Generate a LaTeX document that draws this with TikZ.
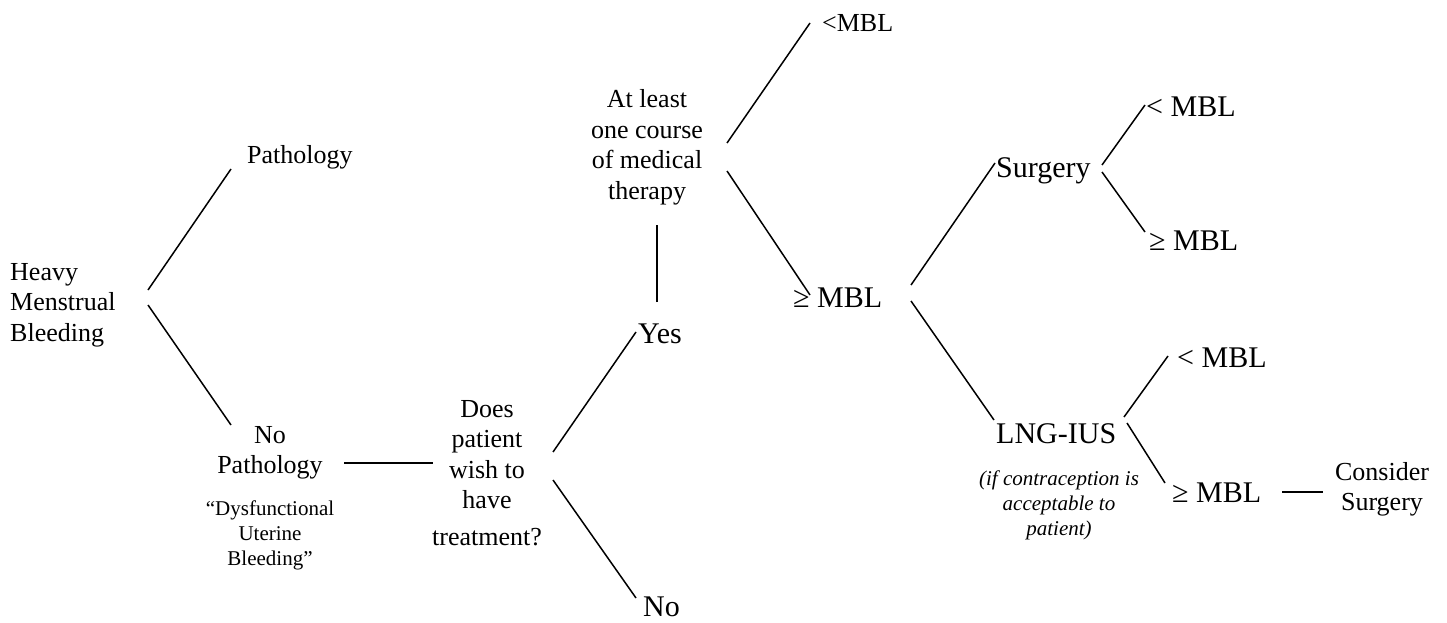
\documentclass[tikz,border=0pt]{standalone}
\usepackage{fontspec}
\setmainfont{Liberation Serif}
\usetikzlibrary{calc}
\newcommand\stackc[1]{\begin{tabular}[t]{@{}c@{}}#1\end{tabular}}
\newcommand\stackl[1]{\begin{tabular}[t]{@{}l@{}}#1\end{tabular}}
\tikzset{
  txt/.style={inner sep=0pt, font=\fontsize{26}{30.5}\selectfont},
  big/.style={inner sep=0pt, font=\fontsize{30}{36}\selectfont},
  small/.style={inner sep=0pt, font=\fontsize{21}{25}\selectfont},
  note/.style={inner sep=0pt, font=\fontsize{21}{25}\selectfont\itshape},
  link/.style={line width=1.5pt}
}
\begin{document}
\begin{tikzpicture}[x=1pt,y=-1pt]
\useasboundingbox (0,0) rectangle (1447,623);
% nodes
\node[txt,anchor=base west] (hmb) at (10,280) {\stackl{Heavy\\Menstrual\\Bleeding}};
\node[txt,anchor=base west] (path) at (247,163) {Pathology};
\node[txt,anchor=base] (nopath) at (270,443) {\stackc{No\\Pathology}};
\node[small,anchor=base] (dub) at (270,515) {\stackc{“Dysfunctional\\Uterine\\Bleeding”}};
\node[txt,anchor=base] (does) at (487,417) {\stackc{Does\\patient\\wish to\\have\\[6pt]treatment?}};
\node[big,anchor=base west] (yes) at (638,343) {Yes};
\node[big,anchor=base west] (no) at (643,616) {No};
\node[txt,anchor=base] (atleast) at (647,108) {\stackc{At least\\one course\\of medical\\therapy}};
\node[txt,anchor=base west] (lmbl1) at (822,32) {<MBL};
\node[big,anchor=base west] (gmbl1) at (793,307) {≥ MBL};
\node[big,anchor=base west] (surg) at (996,177) {Surgery};
\node[big,anchor=base west] (lmbl2) at (1146,117) {< MBL};
\node[big,anchor=base west] (gmbl2) at (1149,250) {≥ MBL};
\node[big,anchor=base west] (lng) at (996,443) {LNG-IUS};
\node[note,anchor=base] (cond) at (1059,485) {\stackc{(if contraception is\\acceptable to\\patient)}};
\node[big,anchor=base west] (lmbl3) at (1177,367) {< MBL};
\node[big,anchor=base west] (gmbl3) at (1172,502) {≥ MBL};
\node[txt,anchor=base] (cons) at (1382,480) {\stackc{Consider\\Surgery}};
% connectors
\draw[link] ($(hmb.base west)+(138,10)$) -- ($(path.base west)+(-16,6)$);
\draw[link] ($(hmb.base west)+(138,25)$) -- ($(nopath.base)+(-39,-18)$);
\draw[link] ($(nopath.base)+(74,20)$) -- ($(does.base)+(-54,46)$);
\draw[link] ($(does.base)+(66,35)$) -- ($(yes.base west)+(-2,-11)$);
\draw[link] ($(does.base)+(66,63)$) -- ($(no.base west)+(-7,-18)$);
\draw[link] ($(yes.base west)+(19,-41)$) -- ($(atleast.base)+(10,117)$);
\draw[link] ($(atleast.base)+(80,35)$) -- ($(lmbl1.base west)+(-12,-9)$);
\draw[link] ($(atleast.base)+(80,63)$) -- ($(gmbl1.base west)+(17,-12)$);
\draw[link] ($(gmbl1.base west)+(118,-22)$) -- ($(surg.base west)+(-1,-14)$);
\draw[link] ($(gmbl1.base west)+(118,-6)$) -- ($(lng.base west)+(-2,-23)$);
\draw[link] ($(surg.base west)+(106,-12)$) -- ($(lmbl2.base west)+(-1,-12)$);
\draw[link] ($(surg.base west)+(106,-5)$) -- ($(gmbl2.base west)+(-4,-18)$);
\draw[link] ($(lng.base west)+(128,-26)$) -- ($(lmbl3.base west)+(-9,-11)$);
\draw[link] ($(lng.base west)+(131,-20)$) -- ($(gmbl3.base west)+(-7,-19)$);
\draw[link] ($(gmbl3.base west)+(110,-10)$) -- ($(cons.base)+(-59,12)$);
\end{tikzpicture}
\end{document}
